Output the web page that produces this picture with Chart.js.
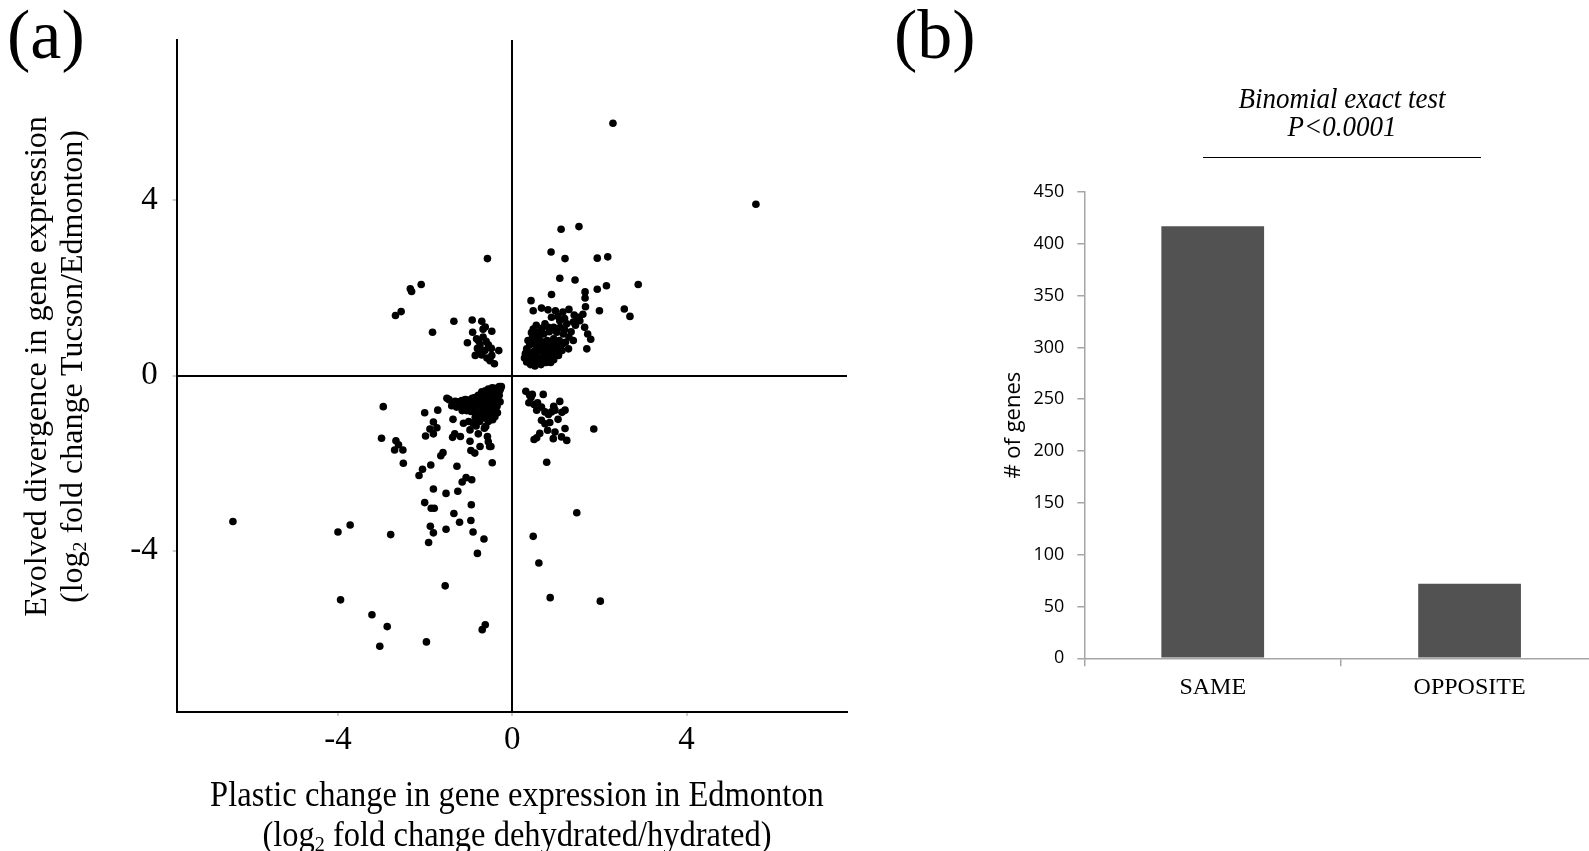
<!DOCTYPE html>
<html>
<head>
<meta charset="utf-8">
<script src="https://cdn.jsdelivr.net/npm/chart.js@4.4.1/dist/chart.umd.min.js"></script>
<style>
html,body{margin:0;padding:0;background:#fff;overflow:hidden;width:1589px;height:851px;}
#wrap{position:relative;width:1589px;height:851px;overflow:hidden;background:#fff;}
canvas{position:absolute;}
#scatter{left:0;top:0;}
#bars{left:880px;top:0;}
.t{position:absolute;font-family:"Liberation Serif",serif;color:#000;white-space:nowrap;}
.panel{font-size:70px;line-height:70px;}
.ann{font-style:italic;font-size:27px;line-height:27px;text-align:center;width:400px;transform:scaleY(1.06);}
sub{font-size:0.62em;line-height:0;vertical-align:-0.25em;}
#ytitle{left:-247px;top:331px;width:600px;height:71px;font-size:32px;line-height:35.5px;text-align:center;transform:rotate(-90deg);transform-origin:50% 50%;}
#xtitle{left:117px;top:778px;width:800px;font-size:32.5px;line-height:37px;text-align:center;transform:scaleY(1.07);transform-origin:50% 50%;}
#sigline{position:absolute;left:1203px;top:156.5px;width:278px;height:0;border-top:1.5px solid #000;}
</style>
</head>
<body>
<div id="wrap">
<canvas id="scatter" width="870" height="851" style="width:870px;height:851px"></canvas>
<canvas id="bars" width="730" height="851" style="width:730px;height:851px"></canvas>
<div class="t panel" style="left:7px;top:0px">(a)</div>
<div class="t panel" style="left:894px;top:0px">(b)</div>
<div class="t" id="ytitle">Evolved divergence in gene expression<br>(log<sub>2</sub> fold change Tucson/Edmonton)</div>
<div class="t" id="xtitle">Plastic change in gene expression in Edmonton<br>(log<sub>2</sub> fold change dehydrated/hydrated)</div>
<div class="t ann" style="left:1142px;top:85px">Binomial exact test</div>
<div class="t ann" style="left:1142px;top:112.5px">P&lt;0.0001</div>
<div id="sigline"></div>
</div>
<script>
// ---- Panel (a): scatter data, [plastic change x, evolved divergence y] ----
const scatterTicks = [-4, 0, 4];

// same direction, both positive
const sameUp = [
[2.31,5.76],[5.59,3.91],[1.12,3.34],[1.53,3.40],[0.89,2.82],[1.21,2.67],[1.95,2.68],[2.19,2.71],
[1.09,2.22],[1.44,2.18],[2.89,2.08],[2.16,2.05],[1.95,1.97],[0.90,1.85],[1.67,1.91],[1.67,1.77],
[0.43,1.71],[2.57,1.52],[2.70,1.35],[2.00,1.48],[1.68,1.57],
[0.48,1.48],[0.67,1.54],[0.82,1.50],[0.99,1.48],[1.16,1.45],[1.30,1.51],[1.42,1.38],[1.52,1.33],
[1.62,1.40],[0.90,1.33],[1.09,1.25],[1.25,1.18],[1.40,1.22],[0.75,1.18],[0.83,1.10],[1.66,1.10],
[1.73,0.95],[1.80,0.83],[0.48,1.06],[0.60,0.99],[0.72,0.95],[1.02,0.99],[1.17,0.95],[1.30,0.88],
[0.95,0.84],[0.80,0.80],[1.22,0.76],[1.40,0.80],[1.29,0.61],[1.71,0.61],[0.45,0.84],[0.52,0.73],
[0.64,0.65],[0.87,0.65],[1.02,0.69],[1.14,0.57],[0.33,0.61],[0.41,0.50],[0.56,0.46],[0.72,0.53],
[0.87,0.46],[1.06,0.46],[0.33,0.31],[0.48,0.34],[0.64,0.38],[0.95,0.36],[0.40,0.42],[0.56,0.61],
[0.50,0.90],[0.58,0.82],[0.66,0.78],[0.74,0.70],[0.82,0.72],[0.90,0.75],[1.08,0.80],[1.15,0.72],
[0.70,0.60],[0.78,0.58],[0.60,0.55],[0.50,0.55],[0.45,0.40],[0.38,0.36],[0.55,0.30],[0.72,0.40],
[0.80,0.42],[0.92,0.55],[1.00,0.60],[0.28,0.40],[0.35,0.55],[0.62,0.92],[0.85,1.00],[0.95,1.10],
[1.10,1.10],[1.20,1.05],[1.35,1.00],[1.45,1.15],[1.55,1.25],[0.68,1.08],[0.55,1.15],[1.05,1.35],
[1.20,1.30],[0.40,0.70],[0.30,0.50],[0.52,0.22],[0.42,0.25],[0.66,0.25],[0.78,0.30],[0.88,0.30],
[0.99,0.50],[1.10,0.62],[0.44,0.98],[0.36,0.80]
];

// same direction, both negative
const sameDown = [
[-6.41,-3.33],[-4.00,-3.57],[-3.72,-3.41],[-2.79,-3.63],[-3.94,-5.12],[-3.22,-5.46],[-2.87,-5.73],[-3.04,-6.18],
[-1.97,-6.08],[-1.54,-4.80],[-0.62,-5.69],[-0.69,-5.80],[-0.80,-4.06],[-0.65,-3.73],[-0.90,-3.57],[-0.95,-3.31],
[-1.21,-3.35],[-1.52,-3.51],[-1.81,-3.59],[-1.88,-3.44],[-1.92,-3.81],[-1.34,-3.15],[-0.94,-2.95],[-1.79,-3.03],
[-1.86,-3.03],[-2.01,-2.90],[-1.52,-2.69],[-1.25,-2.64],[-1.81,-2.59],[-1.15,-2.43],[-1.06,-2.33],[-0.93,-2.38],
[-1.27,-2.07],[-1.87,-2.04],[-2.06,-2.14],[-2.14,-2.28],[-1.64,-1.83],[-1.59,-1.76],[-2.50,-2.00],[-2.51,-1.70],
[-2.70,-1.70],[-2.67,-1.49],[-2.61,-1.58],[-3.00,-1.43],[-2.96,-0.71],[-0.46,-1.99],
[-2.01,-0.85],[-1.71,-0.79],[-1.81,-1.06],[-1.89,-1.22],[-1.73,-1.19],[-1.99,-1.38],[-1.81,-1.33],[-1.36,-1.00],
[-1.32,-1.33],[-1.37,-1.41],[-1.19,-1.39],[-0.97,-1.50],[-0.95,-1.71],[-0.86,-1.77],[-0.74,-1.62],[-0.52,-1.62],
[-0.55,-1.51],[-0.57,-1.39],[-0.78,-1.33],[-0.97,-1.24],[-0.61,-1.16],[-1.12,-1.09],[-1.00,-1.05],[-0.90,-1.09],
[-0.42,-0.90],[-0.65,-0.97],[-0.45,-1.01],[-0.83,-1.15],[-0.64,-1.20],[-0.49,-1.62],
[-1.50,-0.52],[-1.45,-0.55],[-1.31,-0.59],[-1.39,-0.69],[-1.16,-0.57],[-1.01,-0.56],[-0.86,-0.50],[-0.70,-0.37],
[-0.55,-0.31],[-0.40,-0.29],[-0.29,-0.34],[-0.25,-0.25],[-0.48,-0.44],[-0.63,-0.48],[-0.36,-0.48],[-0.78,-0.67],
[-0.59,-0.67],[-0.44,-0.67],[-0.97,-0.75],[-0.40,-0.94],[-0.70,-0.82],[-0.51,-0.82],
[-1.20,-0.65],[-1.10,-0.70],[-1.05,-0.62],[-0.95,-0.60],[-0.90,-0.68],[-0.85,-0.75],[-0.80,-0.58],[-0.75,-0.50],
[-0.68,-0.55],[-0.65,-0.62],[-0.60,-0.42],[-0.58,-0.55],[-0.55,-0.75],[-0.50,-0.50],[-0.50,-0.36],[-0.45,-0.58],
[-0.42,-0.38],[-0.38,-0.55],[-0.35,-0.30],[-0.33,-0.40],[-0.30,-0.25],[-0.30,-0.45],[-0.28,-0.60],[-0.27,-0.30],
[-0.35,-0.70],[-0.38,-0.80],[-0.45,-0.78],[-0.60,-0.80],[-0.66,-0.72],[-0.72,-0.62],[-0.78,-0.45],[-0.88,-0.58],
[-0.92,-0.52],[-1.00,-0.66],[-1.08,-0.55],[-1.25,-0.60],[-1.33,-0.64],[-1.28,-0.72],[-0.85,-0.85],[-0.75,-0.90],
[-0.65,-0.88],[-0.55,-0.92],[-0.48,-0.96],[-0.42,-0.48],[-0.46,-0.28],[-0.62,-0.35],[-0.53,-0.64],[-0.70,-0.70],
[-0.82,-0.62],[-0.95,-0.82],[-1.05,-0.80],[-1.15,-0.80],[-0.34,-0.85],[-0.55,-1.05],[-0.75,-1.05],[-0.85,-0.95]
];

// opposite direction, plastic negative / evolved positive
const oppositeUp = [
[-0.57,2.67],[-2.09,2.08],[-2.34,1.98],[-2.31,1.92],[-2.55,1.46],[-2.68,1.37],[-1.83,0.99],[-1.34,1.24],
[-0.92,1.27],[-0.70,1.24],[-0.91,0.99],[-0.67,1.06],[-0.47,1.01],[-0.82,0.84],[-1.03,0.75],[-0.67,0.88],
[-0.74,0.70],[-0.55,0.70],[-0.31,0.57],[-0.85,0.46],[-0.70,0.47],[-0.47,0.46],[-0.63,0.57],[-0.51,0.34],
[-0.41,0.27],[-0.78,0.80],[-0.60,0.78],[-0.62,1.11],[-0.48,0.62],[-0.58,0.40],[-0.80,0.62],[-0.72,0.55]
];

// opposite direction, plastic positive / evolved negative
const oppositeDown = [
[0.31,-0.36],[0.46,-0.43],[0.71,-0.43],[0.38,-0.62],[0.50,-0.66],[0.56,-0.79],[0.67,-0.72],[0.75,-0.83],
[0.90,-0.83],[0.98,-0.79],[1.09,-0.59],[1.21,-0.79],[0.83,-0.89],[0.67,-1.02],[0.75,-1.10],[0.86,-1.07],
[0.81,-1.25],[0.98,-1.29],[1.21,-1.21],[1.13,-1.40],[0.94,-1.44],[0.63,-1.32],[0.56,-1.42],[0.50,-1.46],
[1.25,-1.48],[1.14,-0.84],[0.43,-0.50],[1.87,-1.22],[0.79,-1.98],[0.48,-3.67],[0.61,-4.28],[0.87,-5.07],
[1.48,-3.13],[2.02,-5.15],[0.58,-0.62],[0.95,-0.70],[1.05,-1.00],[0.40,-0.45]
];

// ---- Panel (b): bar data ----
const categories = ['SAME', 'OPPOSITE'];
const geneCounts = [417, 72];

const toPts = arr => arr.map(([x, y]) => ({x, y}));
const allPoints = [].concat(toPts(sameUp), toPts(sameDown), toPts(oppositeUp), toPts(oppositeDown));

new Chart(document.getElementById('scatter'), {
  type: 'scatter',
  data: { datasets: [{ data: allPoints, pointRadius: 3.8, pointHoverRadius: 3.8, backgroundColor: '#000', borderWidth: 0 }] },
  options: {
    responsive: false, animation: false, events: [],
    layout: { padding: { top: 40, right: 23, left: 0, bottom: 0 } },
    plugins: { legend: { display: false }, tooltip: { enabled: false } },
    scales: {
      x: {
        type: 'linear', min: -7.7, max: 7.68,
        afterBuildTicks: s => { s.ticks = scatterTicks.map(v => ({ value: v })); },
        afterFit: s => { s.height = 139; },
        border: { display: true, color: '#000', width: 2 },
        grid: { color: c => (c.tick && c.tick.value === 0) ? '#000' : 'rgba(0,0,0,0)', lineWidth: 2, tickColor: '#999', tickLength: 4, tickWidth: 1 },
        ticks: { font: { family: 'Liberation Serif', size: 33 }, color: '#000', padding: 5, maxRotation: 0, autoSkip: false }
      },
      y: {
        type: 'linear', min: -7.68, max: 7.66,
        afterBuildTicks: s => { s.ticks = scatterTicks.map(v => ({ value: v })); },
        afterFit: s => { s.width = 176.7; },
        border: { display: true, color: '#000', width: 2 },
        grid: { color: c => (c.tick && c.tick.value === 0) ? '#000' : 'rgba(0,0,0,0)', lineWidth: 2, tickColor: '#999', tickLength: 4, tickWidth: 1 },
        ticks: { font: { family: 'Liberation Serif', size: 33 }, color: '#000', padding: 15, autoSkip: false }
      }
    }
  }
});

new Chart(document.getElementById('bars'), {
  type: 'bar',
  data: { labels: categories, datasets: [{ data: geneCounts, backgroundColor: '#525252', barPercentage: 0.4, categoryPercentage: 1 }] },
  options: {
    responsive: false, animation: false, events: [],
    layout: { padding: { top: 192, right: 12, left: 0, bottom: 0 } },
    plugins: { legend: { display: false }, tooltip: { enabled: false } },
    scales: {
      x: {
        offset: true,
        afterFit: s => { s.height = 851 - 658.3; },
        border: { display: true, color: '#a6a6a6', width: 1.5 },
        grid: { offset: true, drawOnChartArea: false, color: '#a6a6a6', tickLength: 8, lineWidth: 1.5 },
        ticks: { font: { family: 'Liberation Serif', size: 24 }, color: '#000', padding: 7, maxRotation: 0 }
      },
      y: {
        min: 0, max: 450,
        afterFit: s => { s.width = 204.3; },
        border: { display: true, color: '#a6a6a6', width: 1.5 },
        grid: { drawOnChartArea: false, color: '#a6a6a6', tickLength: 7, lineWidth: 1.5 },
        ticks: { stepSize: 50, font: { family: 'Open Sans', size: 18 }, color: '#000', padding: 13 },
        title: { display: true, text: '# of genes', font: { family: 'Open Sans', size: 22 }, color: '#000', padding: { top: 121, bottom: 0 } }
      }
    }
  }
});
</script>
</body>
</html>
